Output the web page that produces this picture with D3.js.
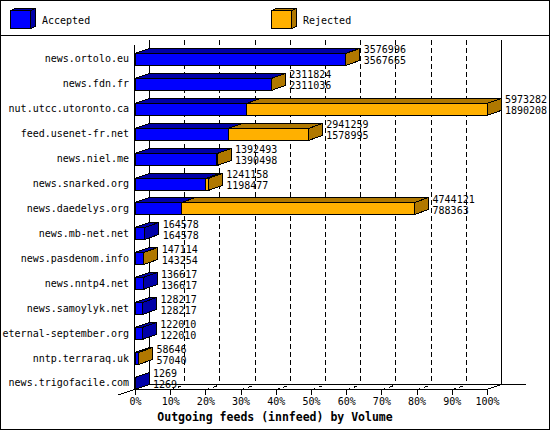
<!DOCTYPE html>
<html lang="en">
<head>
    <meta charset="UTF-8">
    <title>Outgoing feeds</title>
    <style>
        body { margin: 0; background: #fff; }
        svg text { font-family: "DejaVu Sans Mono", monospace; font-size: 10px; fill: #000; }
    </style>
</head>
<body>
    <svg width="550" height="430"></svg>
    <script type="text/javascript" src="https://d3js.org/d3.v7.min.js"></script>
    <script>
        var peers = ["news.ortolo.eu", "news.fdn.fr", "nut.utcc.utoronto.ca", "feed.usenet-fr.net",
            "news.niel.me", "news.snarked.org", "news.daedelys.org", "news.mb-net.net",
            "news.pasdenom.info", "news.nntp4.net", "news.samoylyk.net", "eternal-september.org",
            "nntp.terraraq.uk", "news.trigofacile.com"];
        var offered = [3576996, 2311824, 5973282, 2941259, 1392493, 1241158, 4744121,
            164578, 147114, 136617, 128217, 122010, 58646, 1269];
        var accepted = [3567665, 2311036, 1890208, 1578995, 1390498, 1198477, 788363,
            164578, 143254, 136617, 128217, 122010, 57040, 1269];
        var pctTicks = [0, 10, 20, 30, 40, 50, 60, 70, 80, 90, 100];

        var blue = "#0000ff", blueDark = "#0000a8",
            orange = "#ffb000", orangeDark = "#b07800";

        var svg = d3.select("svg"),
            width = +svg.attr("width"),
            height = +svg.attr("height");

        svg.attr("shape-rendering", "crispEdges");

        // depth of the 3d effect
        var dx = 14, dy = -5;
        var x0 = 135, x1 = 487, floorY = 390, topY = 45;

        var x = d3.scaleLinear().domain([0, d3.max(offered)]).range([x0, x1]);
        var pct = d3.scaleLinear().domain([0, 100]).range([x0, x1]);
        var y = d3.scaleBand().domain(peers).range([46.5, 395.4]);

        // frame + legend box
        svg.append("rect").attr("x", 0.5).attr("y", 0.5).attr("width", width - 1).attr("height", height - 1)
            .attr("fill", "none").attr("stroke", "#000");
        svg.append("line").attr("x1", 0).attr("x2", width).attr("y1", 35.5).attr("y2", 35.5).attr("stroke", "#000");

        function cube(g, xa, ya, w, h, ddx, ddy, front, dark) {
            g.append("polygon")
                .attr("points", [[xa, ya], [xa + ddx, ya + ddy], [xa + w + ddx, ya + ddy], [xa + w, ya]].join(" "))
                .attr("fill", dark).attr("stroke", "#000");
            g.append("polygon")
                .attr("points", [[xa + w, ya], [xa + w + ddx, ya + ddy], [xa + w + ddx, ya + h + ddy], [xa + w, ya + h]].join(" "))
                .attr("fill", dark).attr("stroke", "#000");
            g.append("rect").attr("x", xa).attr("y", ya).attr("width", w).attr("height", h)
                .attr("fill", front).attr("stroke", "#000");
        }

        var legend = svg.append("g");
        cube(legend, 10.5, 10.5, 20, 18, 5, -2, blue, blueDark);
        legend.append("text").attr("x", 42).attr("y", 20).attr("dy", "0.35em").text("Accepted");
        cube(legend, 271.5, 10.5, 20, 18, 5, -2, orange, orangeDark);
        legend.append("text").attr("x", 303).attr("y", 20).attr("dy", "0.35em").text("Rejected");

        // walls and floor
        var frame = svg.append("g").attr("stroke", "#000").attr("fill", "none");
        frame.append("line").attr("x1", x0 - 0.5).attr("x2", x0 - 0.5).attr("y1", topY).attr("y2", floorY);
        frame.append("line").attr("x1", x0 + dx + 0.5).attr("x2", x0 + dx + 0.5).attr("y1", topY + dy).attr("y2", floorY + dy);
        frame.append("line").attr("x1", x1 + dx + 0.5).attr("x2", x1 + dx + 0.5).attr("y1", topY + dy).attr("y2", floorY + dy);
        frame.append("line").attr("x1", x0 + dx).attr("x2", 526).attr("y1", floorY + dy - 0.5).attr("y2", floorY + dy - 0.5);
        frame.append("line").attr("x1", x0).attr("x2", x1).attr("y1", floorY - 0.5).attr("y2", floorY - 0.5);
        frame.append("line").attr("x1", x1).attr("x2", x1 + dx).attr("y1", floorY - 0.5).attr("y2", floorY + dy - 0.5);
        frame.append("line").attr("x1", 118).attr("x2", x0).attr("y1", 395).attr("y2", floorY - 0.5);

        var inner = pctTicks.slice(1, -1);
        svg.append("g").selectAll("line.grid")
            .data(inner)
            .join("line")
            .attr("class", "grid")
            .attr("x1", function (d) { return Math.round(pct(d) + dx) + 0.5; })
            .attr("x2", function (d) { return Math.round(pct(d) + dx) + 0.5; })
            .attr("y1", topY + dy)
            .attr("y2", floorY + dy)
            .attr("stroke", "#000")
            .attr("stroke-dasharray", "5,3");

        svg.append("g").selectAll("line.floor")
            .data(inner)
            .join("line")
            .attr("class", "floor")
            .attr("x1", function (d) { return pct(d); })
            .attr("x2", function (d) { return pct(d) + dx; })
            .attr("y1", floorY)
            .attr("y2", floorY + dy)
            .attr("stroke", "#000")
            .attr("stroke-dasharray", "4,4");

        var axis = d3.axisBottom(pct)
            .tickValues(pctTicks)
            .tickSize(5)
            .tickFormat(function (d) { return d + "%"; });

        var ax = svg.append("g").attr("transform", "translate(0," + (floorY - 0.5) + ")").call(axis);
        ax.select(".domain").remove();
        ax.selectAll("text").attr("font-family", null).attr("font-size", null);

        svg.append("text")
            .attr("x", width / 2)
            .attr("y", 417)
            .attr("dy", "0.35em")
            .attr("text-anchor", "middle")
            .style("font-size", "11.5px")
            .style("font-weight", "bold")
            .text("Outgoing feeds (innfeed) by Volume");

        // bars
        var bh = 12;
        var bars = svg.append("g");
        peers.forEach(function (p, i) {
            var c = y(p) + y.bandwidth() / 2;
            var yt = Math.round(c - bh / 2) + 0.5;
            var xa = x(accepted[i]), xt = x(offered[i]);
            cube(bars, x0, yt, xa - x0, bh, dx, dy, blue, blueDark);
            if (offered[i] > accepted[i]) {
                cube(bars, xa, yt, xt - xa, bh, dx, dy, orange, orangeDark);
            }

            bars.append("text").attr("x", xt + dx + 4).attr("y", c - 9).attr("dy", "0.35em").text(offered[i]);
            bars.append("text").attr("x", xt + dx + 4).attr("y", c + 2).attr("dy", "0.35em").text(accepted[i]);
        });

        svg.append("g").selectAll("text.peer")
            .data(peers)
            .join("text")
            .attr("class", "peer")
            .attr("x", 129)
            .attr("y", function (d) { return y(d) + y.bandwidth() / 2; })
            .attr("dy", "0.35em")
            .attr("text-anchor", "end")
            .text(function (d) { return d; });
    </script>
</body>
</html>
